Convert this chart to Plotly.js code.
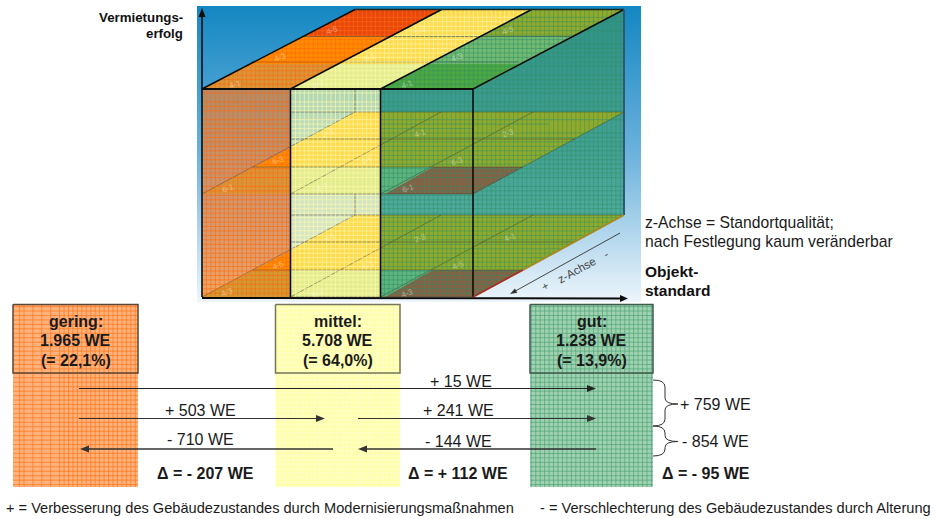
<!DOCTYPE html>
<html lang="de">
<head>
<meta charset="utf-8">
<title>Objektstandard und Standortqualität</title>
<script src="https://cdn.plot.ly/plotly-3.0.1.min.js"></script>
<style>html,body{margin:0;padding:0;background:#fff}#plot{width:936px;height:519px}</style>
</head>
<body>
<div id="plot"></div>
<script>
// Stock by building standard, in dwelling units (WE)
const categories = ['gering', 'mittel', 'gut'];
const units = [1965, 5708, 1238];
const shares = [22.1, 64.0, 13.9];
const deltas = [-207, 112, -95];
const upgradeAcross = 15;
const upgradeSteps = [503, 241];
const downgradeSteps = [710, 144];
const totalUp = 759;
const totalDown = 854;
const cellCodes = ['4-5', '4-3', '4-1', '6-3', '6-1', '2-3'];

// Drawing frame: the axes run in screen units over the whole figure
const W = 936, H = 519;
const FX = [202, 290.5, 380.5, 473];           // front face column edges
const LEVEL = [89, 194, 297];                  // front edge of each shelf
const BACK = [9.5, 112, 215];                  // rear edge of each shelf
const BX = 624;                                // rear right edge of the block
const GRID = 4.45;
const SANS = '"Liberation Sans", Arial, sans-serif';

const C = {
  red: '#e8470d', orange: '#ff8c00', amber: '#d8963a', amberLow: '#d09a34',
  yellow: '#ffdb4c', pale: '#e2ed8e', olive: '#92aa2a', brown: '#886044',
  lightGreen: '#72ba72', green: '#4ea840', leaf: '#5fb57e', wallTeal: '#58b3a2',
  gridL: 'rgba(255,106,12,0.8)', gridM: 'rgba(255,246,170,0.85)', gridG: 'rgba(47,143,104,0.75)', line: 'rgba(50,50,40,0.45)'
};

const traces = [];
const annotations = [];

function poly(pts, color, gradient) {
  const t = {
    x: pts.map(p => p[0]).concat(pts[0][0]),
    y: pts.map(p => p[1]).concat(pts[0][1]),
    mode: 'lines', fill: 'toself', line: {width: 0}, fillcolor: color || 'rgba(0,0,0,0)',
    hoverinfo: 'skip', showlegend: false
  };
  // Stops are given from the top edge down; the inverted y axis flips the gradient
  if (gradient) t.fillgradient = {type: 'vertical', colorscale: gradient.map(s => [1 - s[0], s[1]]).reverse()};
  traces.push(t);
}

function seg(x0, y0, x1, y1, color, width) {
  traces.push({
    x: [x0, x1], y: [y0, y1], mode: 'lines', line: {color: color, width: width},
    hoverinfo: 'skip', showlegend: false
  });
}

// Clip a convex polygon to a half plane on one coordinate
function clipAxis(pts, i, lim, keepAbove) {
  const out = [];
  for (let k = 0; k < pts.length; k++) {
    const a = pts[k], b = pts[(k + 1) % pts.length];
    const ina = keepAbove ? a[i] >= lim : a[i] <= lim;
    const inb = keepAbove ? b[i] >= lim : b[i] <= lim;
    if (ina) out.push(a);
    if (ina !== inb) {
      const t = (lim - a[i]) / (b[i] - a[i]);
      out.push([a[0] + t * (b[0] - a[0]), a[1] + t * (b[1] - a[1])]);
    }
  }
  return out;
}
const bandY = (pts, y0, y1) => clipAxis(clipAxis(pts, 1, y0, true), 1, y1, false);
const bandX = (pts, x0, x1) => clipAxis(clipAxis(pts, 0, x0, true), 0, x1, false);

// Axis-parallel hatch restricted to a convex polygon
function hatch(pts, color, width) {
  const xs = [], ys = [];
  const bx = pts.map(p => p[0]), by = pts.map(p => p[1]);
  const x0 = Math.min(...bx), x1 = Math.max(...bx), y0 = Math.min(...by), y1 = Math.max(...by);
  for (let x = FX[0] - GRID * 60; x < x1; x += GRID) {
    if (x <= x0) continue;
    const c = bandX(pts, x, x);
    if (c.length) {
      const v = c.map(p => p[1]);
      xs.push(x, x, null); ys.push(Math.min(...v), Math.max(...v), null);
    }
  }
  for (let y = 4 - GRID; y < y1; y += GRID) {
    if (y <= y0) continue;
    const c = bandY(pts, y, y);
    if (c.length) {
      const v = c.map(p => p[0]);
      xs.push(Math.min(...v), Math.max(...v), null); ys.push(y, y, null);
    }
  }
  traces.push({x: xs, y: ys, mode: 'lines', line: {color: color, width: width}, hoverinfo: 'skip', showlegend: false, connectgaps: false});
}

function arrow(x0, y0, x1, y1, color, width, len, half) {
  const d = Math.hypot(x1 - x0, y1 - y0), ux = (x1 - x0) / d, uy = (y1 - y0) / d;
  seg(x0, y0, x1 - ux * len * 0.5, y1 - uy * len * 0.5, color, width);
  poly([[x1, y1], [x1 - ux * len - uy * half, y1 - uy * len + ux * half], [x1 - ux * len + uy * half, y1 - uy * len - ux * half]], color);
}

function label(x, y, text, o) {
  o = o || {};
  annotations.push({
    x: x, y: y, xref: 'x', yref: 'y', text: text, showarrow: false,
    xanchor: o.anchor || 'center', yanchor: 'middle', textangle: o.angle || 0,
    opacity: o.opacity === undefined ? 1 : o.opacity, borderpad: 0,
    font: {family: SANS, size: o.size || 16, color: o.color || '#1a1a1a'}
  });
}

// Backdrop behind the block
poly([[197, 6], [641, 6], [641, 302], [197, 302]], '#6ab', [[0, '#1487c2'], [0.5, '#6cb2dc'], [1, '#edf5fb']]);

// Top face, one strip per column
const topStrip = i => [[FX[i], LEVEL[0]], [FX[i + 1], LEVEL[0]], [FX[i + 1] + 151, BACK[0]], [FX[i] + 153, BACK[0]]];
const topColors = [[C.red, C.orange, C.amber], [C.yellow, C.yellow, C.pale], [C.olive, C.lightGreen, C.green]];
const topCuts = [BACK[0], 36.5, 64, LEVEL[0]];
topColors.forEach((cols, i) => cols.forEach((c, b) => poly(bandY(topStrip(i), topCuts[b], topCuts[b + 1]), c)));

// Left column of the front face with shelves seen through it
const rectL = [[FX[0], LEVEL[0]], [FX[1], LEVEL[0]], [FX[1], LEVEL[2]], [FX[0], LEVEL[2]]];
poly(rectL, '#c90', [[0, '#ae8c6a'], [0.5, '#cc9670'], [0.85, '#e2a06c'], [1, '#f2a760']]);
[1, 2].forEach(l => {
  const tri = [[FX[0], LEVEL[l]], [FX[1], LEVEL[l]], [FX[1], LEVEL[l] - 46]];
  poly(bandY(tri, LEVEL[l] - 46, LEVEL[l] - 27), C.orange);
  poly(bandY(tri, LEVEL[l] - 27, LEVEL[l]), l === 1 ? C.amber : C.amberLow);
});

// Middle column
const rectM = [[FX[1], LEVEL[0]], [FX[2], LEVEL[0]], [FX[2], LEVEL[2]], [FX[1], LEVEL[2]]];
poly(rectM, '#bde', [[0, '#aed7b4'], [0.5, '#d0e4c4'], [1, '#dcebc8']]);
[1, 2].forEach(l => {
  const area = [[FX[1], LEVEL[l]], [FX[2], LEVEL[l]], [FX[2], BACK[l]], [355, BACK[l]], [FX[1], LEVEL[l] - 47]];
  poly(bandY(area, BACK[l], LEVEL[l] - 27), C.yellow);
  poly(bandY(area, LEVEL[l] - 27, LEVEL[l]), C.pale);
});

// Right column
poly([[FX[2], LEVEL[0]], [FX[3], LEVEL[0]], [FX[3], LEVEL[2]], [FX[2], LEVEL[2]]], '#4aa', [[0, '#3a9a90'], [1, '#5fb6a6']]);
[1, 2].forEach(l => {
  poly([[FX[2], BACK[l]], [FX[3], BACK[l]], [FX[3], LEVEL[l] - 27], [FX[2], LEVEL[l] - 27]], C.olive);
  poly([[FX[2], LEVEL[l] - 27], [FX[3], LEVEL[l] - 27], [FX[3], LEVEL[l]], [FX[2], LEVEL[l]]], C.leaf);
  poly([[385, LEVEL[l]], [FX[3], LEVEL[l]], [FX[3], LEVEL[l] - 27], [433, LEVEL[l] - 27]], C.brown);
});

// Side face of the block
const side = [[FX[3], LEVEL[0]], [BX, BACK[0] + 0.5], [BX, BACK[2]], [FX[3], LEVEL[2]]];
poly(side, '#4aa', [[0, '#2f9186'], [0.55, '#46a396'], [1, '#5fb8aa']]);
[1, 2].forEach(l => {
  const tri = [[FX[3], BACK[l]], [BX, BACK[l]], [FX[3], LEVEL[l]]];
  poly(bandY(tri, BACK[l], LEVEL[l] - 27), C.olive);
  poly(bandY(tri, LEVEL[l] - 27, LEVEL[l]), C.brown);
});

// Shelf division lines, drawn faintly over the fills
[0, 1, 2].forEach(l => {
  const mid = BACK[l] + 27, front = LEVEL[l] - 27;
  if (l === 0) {
    seg(FX[0] + 49, front, 518, front, C.line, 1);
    seg(FX[0] + 101, mid, 570, mid, C.line, 1);
    return;
  }
  seg(FX[0] + 51, front, FX[3] + 50, front, C.line, 1);
  seg(FX[1], mid, FX[3] + 102, mid, C.line, 1);
  seg(FX[0], LEVEL[l], 355, BACK[l], C.line, 1);
  seg(FX[1], LEVEL[l], 441, BACK[l], C.line, 1);
  seg(FX[2], LEVEL[l], 533, BACK[l], C.line, 1);
  seg(FX[3], LEVEL[l], BX, BACK[l], C.line, 1);
  seg(FX[1], BACK[l], FX[3] + 151, BACK[l], C.line, 1);
  seg(FX[1], LEVEL[l], FX[3], LEVEL[l], C.line, 1);
});
seg(355, LEVEL[0], 355, BACK[1], C.line, 1);
seg(355, LEVEL[1], 355, BACK[2], C.line, 1);

// Fine hatch over each column
hatch(rectL, C.gridL, 0.8); hatch(topStrip(0), C.gridL, 0.8);
hatch(rectM, C.gridM, 0.8); hatch(topStrip(1), C.gridM, 0.8);
hatch([[FX[2], LEVEL[0]], [FX[3], LEVEL[0]], [FX[3], LEVEL[2]], [FX[2], LEVEL[2]]], C.gridG, 0.7);
hatch(topStrip(2), C.gridG, 0.7); hatch(side, C.gridG, 0.7);

// Cell codes printed on the shelves
const codeSpots = [
  [332, 30], [280, 57], [235, 84], [420, 30], [370, 57], [318, 84], [508, 30], [457, 57], [407, 84],
  [278, 160], [228, 188], [328, 133], [367, 160], [322, 187], [420, 133], [457, 161], [408, 188], [508, 133],
  [278, 265], [227, 292], [330, 237], [368, 265], [318, 293], [420, 238], [458, 265], [407, 293], [510, 237]
];
codeSpots.forEach((p, i) => label(p[0], p[1], cellCodes[i % cellCodes.length], {size: 8, color: '#ffffff', angle: -20, opacity: 0.42}));

// Block outline
const K = '#0c0c0c';
seg(FX[0], LEVEL[0], FX[3], LEVEL[0], K, 1.8);
[1, 2, 3].forEach(i => seg(FX[i], LEVEL[0], FX[i], LEVEL[2], K, 1.6));
seg(FX[0], LEVEL[0], FX[0] + 153, BACK[0], K, 1.5);
seg(FX[1], LEVEL[0], FX[1] + 151, BACK[0], K, 1.5);
seg(FX[2], LEVEL[0], FX[2] + 151, BACK[0], K, 1.5);
seg(FX[3], LEVEL[0], BX, BACK[0], K, 1.5);
seg(FX[0] + 153, BACK[0], BX, BACK[0], '#1a2a20', 1.5);
seg(BX, BACK[0], BX, BACK[2], '#2d5a70', 2);
seg(FX[3], LEVEL[2], 523, 270, '#a83020', 1.8);
seg(523, 270, BX, BACK[2], '#a88a20', 1.8);

// Value axis and standard axis
arrow(FX[0], LEVEL[2], FX[0], 8, K, 1.6, 9, 3.5);
arrow(FX[0], 298, 628, 298.5, K, 2, 8, 3.5);

// Depth arrow beside the block
arrow(620, 233, 510, 294, '#333', 0.9, 7, 2.5);
label(577, 270, 'z-Achse', {size: 11.5, color: '#444', angle: -29});
label(545, 286, '+', {size: 11, color: '#444', angle: -29});
label(606, 254, '-', {size: 11, color: '#444', angle: -29});

// Columns below the block, one per standard
const COL = [[13, 138], [275.5, 400], [530, 653]];
const COLTOP = 304.5, BOXEND = 373, COLEND = 487;
const colFill = ['#ffb27c', '#ffffc4', '#a0d2b2'];
const colGrid = ['rgba(255,112,15,0.85)', 'rgba(255,255,150,0.9)', 'rgba(75,162,116,0.9)'];
const colEdge = ['#5c4530', '#75755a', '#3e5a4a'];
categories.forEach((name, i) => {
  const [a, b] = COL[i];
  const r = [[a, COLTOP], [b, COLTOP], [b, COLEND], [a, COLEND]];
  poly(r, colFill[i]);
  hatch(r, colGrid[i], 0.75);
  traces.push({
    x: [a, b, b, a, a], y: [COLTOP, COLTOP, BOXEND, BOXEND, COLTOP], mode: 'lines',
    line: {color: colEdge[i], width: 1.5}, hoverinfo: 'skip', showlegend: false
  });
  const mid = (a + b) / 2;
  const bold = t => '<b>' + t + '</b>';
  label(mid, 321, bold(name + ':'));
  label(mid, 340, bold(units[i].toLocaleString('de-DE') + ' WE'));
  label(mid, 360, bold('(= ' + shares[i].toFixed(1).replace('.', ',') + '%)'));
});

// Moves between the standards
const signed = n => (n < 0 ? '- ' : '+ ') + Math.abs(n).toLocaleString('de-DE');
arrow(79, 388.5, 596, 388.5, '#222', 1.1, 9, 3.5);
label(461, 381, signed(upgradeAcross) + ' WE');
arrow(79, 418.5, 325, 418.5, '#333', 1.1, 9, 3.5);
label(200, 410, signed(upgradeSteps[0]) + ' WE');
arrow(358, 418.5, 596, 418.5, '#333', 1.1, 9, 3.5);
label(458, 410, signed(upgradeSteps[1]) + ' WE');
arrow(333, 449, 80, 449, '#333', 1.4, 9, 3.5);
label(200, 439, signed(-downgradeSteps[0]) + ' WE');
arrow(596, 449, 358, 449, '#333', 1.4, 9, 3.5);
label(458, 441, signed(-downgradeSteps[1]) + ' WE');

// Net change per standard
const deltaX = [205, 458, 706];
deltas.forEach((d, i) => label(deltaX[i], 473, '<b>Δ = ' + signed(d) + ' WE</b>'));

// Braces collecting the moves into the top standard
function brace(x, top, tip, bottom) {
  const m = x + 12, e = x + 25;
  return {
    type: 'path', xref: 'x', yref: 'y', line: {color: '#333', width: 1},
    path: `M${x},${top} Q${m},${top} ${m},${top + 7} L${m},${tip - 6} Q${m},${tip} ${e},${tip} ` +
          `Q${m},${tip} ${m},${tip + 6} L${m},${bottom - 7} Q${m},${bottom} ${x},${bottom}`
  };
}
const shapes = [brace(653, 380, 404, 426), brace(653, 426, 441.5, 456)];
label(679, 404, signed(totalUp) + ' WE', {anchor: 'left'});
label(681, 441, signed(-totalDown) + ' WE', {anchor: 'left'});

// Axis captions and notes
label(184, 17, '<b>Vermietungs-</b>', {anchor: 'right', size: 13.3, color: '#111'});
label(184, 33, '<b>erfolg</b>', {anchor: 'right', size: 13.3, color: '#111'});
label(644, 222.5, 'z-Achse = Standortqualität;', {anchor: 'left', size: 15.7});
label(644, 241, 'nach Festlegung kaum veränderbar', {anchor: 'left', size: 15.7});
label(644, 271, '<b>Objekt-</b>', {anchor: 'left', size: 15.5, color: '#111'});
label(644, 290, '<b>standard</b>', {anchor: 'left', size: 15.5, color: '#111'});
label(5, 508, '+ = Verbesserung des Gebäudezustandes durch Modernisierungsmaßnahmen', {anchor: 'left', size: 14.6});
label(539, 508, '- = Verschlechterung des Gebäudezustandes durch Alterung', {anchor: 'left', size: 14.6});

Plotly.newPlot('plot', traces, {
  width: W, height: H, margin: {l: 0, r: 0, t: 0, b: 0},
  paper_bgcolor: '#fff', plot_bgcolor: '#fff', showlegend: false, hovermode: false,
  xaxis: {range: [0, W], visible: false, fixedrange: true},
  yaxis: {range: [H, 0], visible: false, fixedrange: true},
  annotations: annotations, shapes: shapes
}, {displayModeBar: false, staticPlot: true});
</script>
</body>
</html>
